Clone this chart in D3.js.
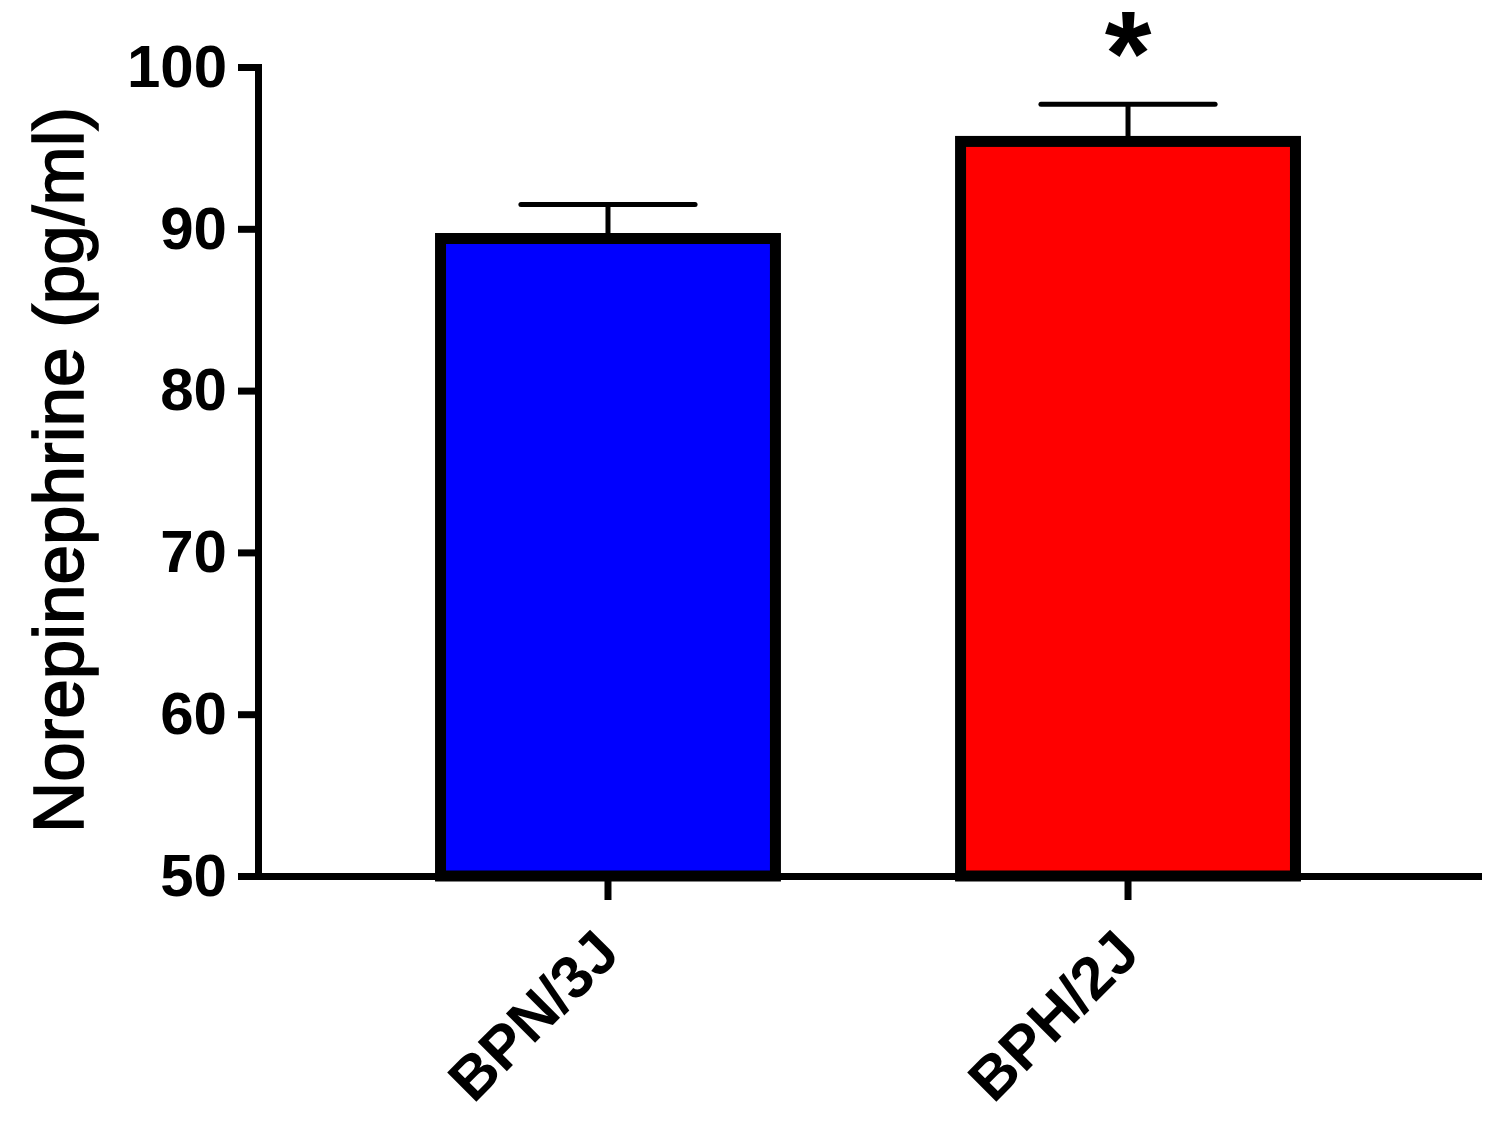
<!DOCTYPE html>
<html>
<head>
<meta charset="utf-8">
<script src="https://cdn.jsdelivr.net/npm/d3@7"></script>
<style>
  body { margin: 0; background: #fff; }
  svg { display: block; }
  text { font-family: "Liberation Sans", Arial, sans-serif; }
</style>
</head>
<body>
<svg width="1497" height="1129"></svg>
<script>
// data
var groups = ["BPN/3J", "BPH/2J"];
var means = [89.4, 95.4];
var sems = [2.1, 2.3];
var barColors = ["#0000ff", "#ff0000"];
var significant = [false, true];
var yTicks = [50, 60, 70, 80, 90, 100];

var svg = d3.select("svg");
var plotLeft = 258, plotRight = 1478, plotTop = 67, plotBottom = 876;

var x = d3.scaleBand()
  .domain(groups)
  .range([plotLeft, plotRight])
  .paddingInner(0.356)
  .paddingOuter(0.351);

var y = d3.scaleLinear().domain([50, 100]).range([plotBottom, plotTop]);

// bars
svg.append("g").selectAll("rect")
  .data(groups)
  .enter().append("rect")
    .attr("x", function(d) { return x(d); })
    .attr("y", function(d, i) { return y(means[i]); })
    .attr("width", x.bandwidth())
    .attr("height", function(d, i) { return y(50) - y(means[i]); })
    .attr("fill", function(d, i) { return barColors[i]; })
    .attr("stroke", "#000")
    .attr("stroke-width", 11);

// error bars (upper only)
var capW = x.bandwidth() * 0.52;
var err = svg.append("g").attr("stroke", "#000").attr("stroke-width", 5);
groups.forEach(function(g, i) {
  var cx = x(g) + x.bandwidth() / 2;
  var yTop = y(means[i] + sems[i]);
  err.append("line")
    .attr("x1", cx).attr("x2", cx)
    .attr("y1", y(means[i])).attr("y2", yTop);
  err.append("line")
    .attr("x1", cx - capW / 2).attr("x2", cx + capW / 2)
    .attr("y1", yTop).attr("y2", yTop)
    .attr("stroke-linecap", "round");
  if (significant[i]) {
    svg.append("text")
      .attr("x", cx)
      .attr("y", yTop - 9)
      .attr("text-anchor", "middle")
      .attr("font-size", 120)
      .attr("font-weight", "bold")
      .text("*");
  }
});

// y axis
var yAxis = svg.append("g")
  .attr("transform", "translate(" + plotLeft + ",0)")
  .call(d3.axisLeft(y).tickValues(yTicks).tickSize(20).tickSizeOuter(0).tickPadding(11));

// x axis
var xAxis = svg.append("g")
  .attr("transform", "translate(0," + plotBottom + ")")
  .call(d3.axisBottom(x).tickSize(24).tickSizeOuter(0).tickFormat(""));

svg.selectAll(".domain").attr("stroke", "#000").attr("stroke-width", 7).attr("stroke-linecap", "square");
svg.selectAll(".tick line").attr("stroke", "#000").attr("stroke-width", 7);

yAxis.selectAll(".tick text")
  .attr("font-size", 60)
  .attr("font-weight", "bold")
  .attr("fill", "#000")
  .attr("font-family", "Liberation Sans, Arial, sans-serif");

// rotated category labels
svg.append("g").selectAll("text")
  .data(groups)
  .enter().append("text")
    .attr("transform", function(d) {
      return "translate(" + (x(d) + x.bandwidth() / 2 + 14) + "," + (plotBottom + 80) + ") rotate(-45)";
    })
    .attr("text-anchor", "end")
    .attr("font-size", 60)
    .attr("font-weight", "bold")
    .text(function(d) { return d; });

// y title
svg.append("text")
  .attr("transform", "translate(83,470) rotate(-90)")
  .attr("text-anchor", "middle")
  .attr("font-size", 71)
  .attr("stroke", "#000")
  .attr("stroke-width", 1.6)
  .text("Norepinephrine (pg/ml)");
</script>
</body>
</html>
